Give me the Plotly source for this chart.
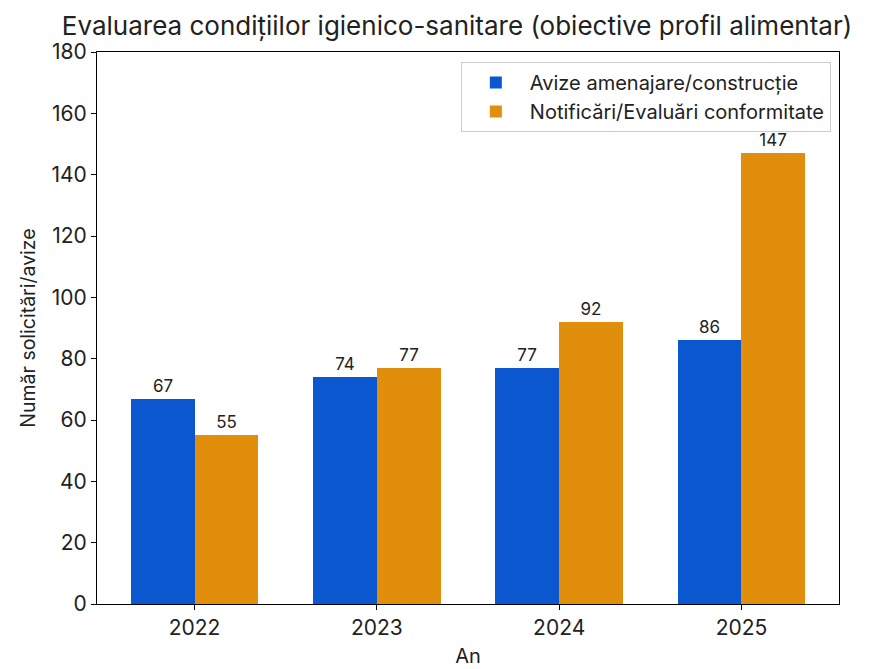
import plotly.graph_objects as go

years = ["2022", "2023", "2024", "2025"]
avize = [67, 74, 77, 86]
notificari = [55, 77, 92, 147]
series_names = ["Avize amenajare/construcție", "Notificări/Evaluări conformitate"]
y_ticks = [0, 20, 40, 60, 80, 100, 120, 140, 160, 180]

FONT = "Inter"
blue = "#0B57D0"
orange = "#E08E0B"

x = list(range(len(years)))
w = 0.35

fig = go.Figure()
fig.add_trace(go.Bar(
    x=[i - w / 2 for i in x], y=avize, width=w, name=series_names[0],
    marker=dict(color=blue, line=dict(width=0)),
    text=[str(v) for v in avize], textposition="outside",
    textfont=dict(size=17, color="#222"), cliponaxis=False,
))
fig.add_trace(go.Bar(
    x=[i + w / 2 for i in x], y=notificari, width=w, name=series_names[1],
    marker=dict(color=orange, line=dict(width=0)),
    text=[str(v) for v in notificari], textposition="outside",
    textfont=dict(size=17, color="#222"), cliponaxis=False,
))

fig.update_layout(
    width=896, height=669,
    margin=dict(l=89, r=65, t=44, b=73),
    paper_bgcolor="white", plot_bgcolor="white",
    font=dict(family=FONT, color="#222", size=19),
    barmode="overlay",
    bargap=0,
    title=dict(text="Evaluarea condițiilor igienico-sanitare (obiective profil alimentar)",
               x=449 / 896, xanchor="center", xref="container",
               y=1 - 18 / 669, yanchor="middle", yref="container",
               font=dict(size=26, family=FONT, color="#222")),
    showlegend=True,
    legend=dict(x=0.989, xanchor="right", y=0.982, yanchor="top",
                bordercolor="#cccccc", borderwidth=1, bgcolor="white",
                font=dict(size=20, family=FONT), tracegroupgap=6,
                itemwidth=58),
    xaxis=dict(
        range=[-0.535, 3.535], tickvals=x, ticktext=years,
        showline=True, linecolor="black", linewidth=1, mirror=True,
        ticks="outside", ticklen=5, tickcolor="black",
        tickfont=dict(size=21), showgrid=False, zeroline=False,
        title=dict(text="An", font=dict(size=20), standoff=9),
    ),
    yaxis=dict(
        range=[0, 180], tickvals=y_ticks,
        showline=True, linecolor="black", linewidth=1, mirror=True,
        ticks="outside", ticklen=5, tickcolor="black",
        tickfont=dict(size=21), showgrid=False, zeroline=False,
        title=dict(text="Număr solicitări/avize", font=dict(size=19.5), standoff=10),
    ),
)

fig.write_html("out.html")
